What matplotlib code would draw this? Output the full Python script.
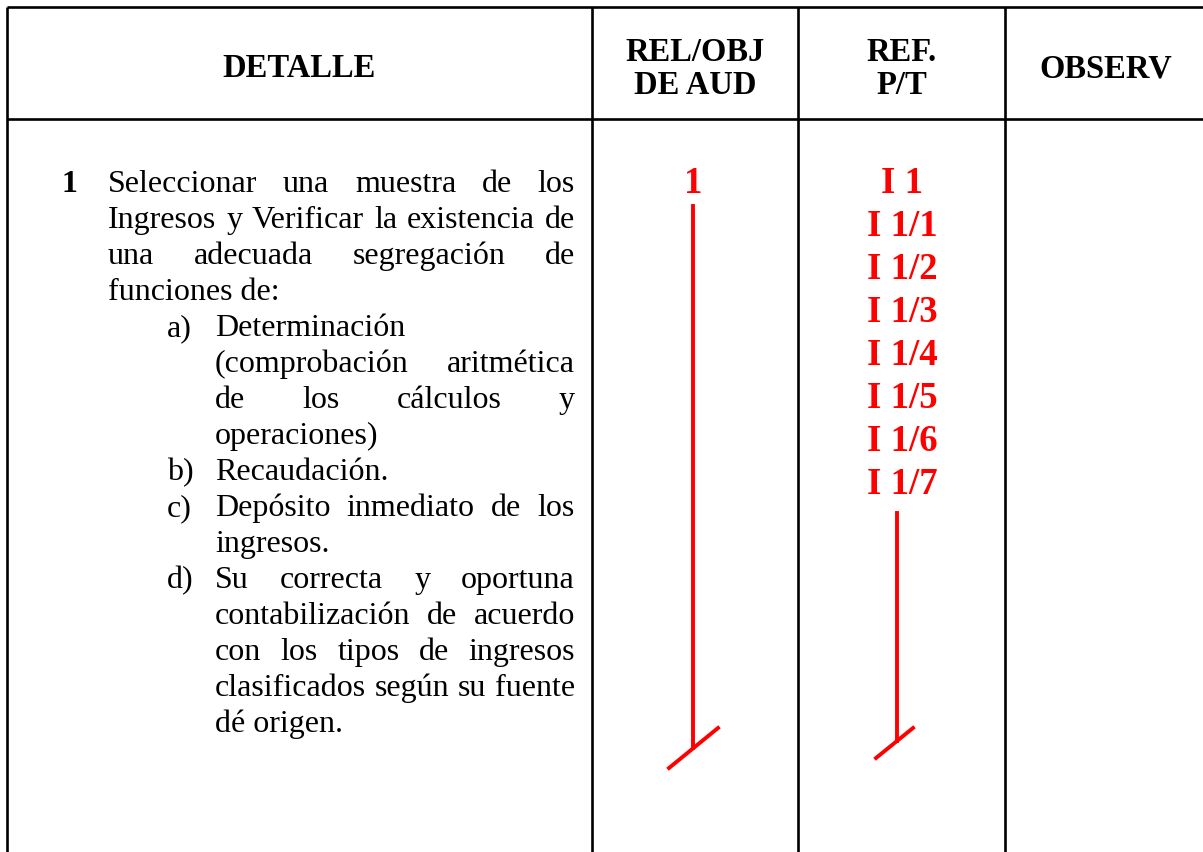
import matplotlib
matplotlib.use("Agg")
import matplotlib.pyplot as plt

# ---------------------------------------------------------------------------
# Table content
# ---------------------------------------------------------------------------
HEADERS = ["DETALLE", "REL/OBJ\nDE AUD", "REF.\nP/T", "OBSERV"]
ITEM_NUMBER = "1"

# each paragraph is a list of lines; all lines but the last are justified
INTRO = [
    "Seleccionar una muestra de los",
    "Ingresos y Verificar la existencia de",
    "una adecuada segregación de",
    "funciones de:",
]
SUB_LABELS = ["a)", "b)", "c)", "d)"]
SUB_ITEMS = [
    ["Determinación",
     "(comprobación aritmética",
     "de los cálculos y",
     "operaciones)"],
    ["Recaudación."],
    ["Depósito inmediato de los",
     "ingresos."],
    ["Su correcta y oportuna",
     "contabilización de acuerdo",
     "con los tipos de ingresos",
     "clasificados según su fuente",
     "dé origen."],
]
REL_OBJ = ["1"]
REF_PT = ["I 1", "I 1/1", "I 1/2", "I 1/3", "I 1/4", "I 1/5", "I 1/6", "I 1/7"]

# ---------------------------------------------------------------------------
# Layout (pixel coordinates, y grows downward)
# ---------------------------------------------------------------------------
W, H = 1203, 853
COL_X = [7, 592, 798, 1005, W + 5]
TOP_Y, HEAD_Y = 8, 120
SERIF = ["Liberation Serif", "DejaVu Serif"]
RED = "#ff0000"

HEAD_SIZE = 23.5
BODY_SIZE = 23
RED_SIZE = 26.5
LINE_STEP = 36
RED_STEP = 43

fig = plt.figure(figsize=(W / 100, H / 100), dpi=100)
ax = fig.add_axes([0, 0, 1, 1])
ax.set_xlim(0, W)
ax.set_ylim(H, 0)
ax.axis("off")
renderer = fig.canvas.get_renderer()

# grid lines
lw = 1.9
ax.plot([COL_X[0], W], [TOP_Y, TOP_Y], color="black", lw=lw, solid_capstyle="butt")
ax.plot([COL_X[0], W], [HEAD_Y, HEAD_Y], color="black", lw=lw, solid_capstyle="butt")
for x in COL_X[:4]:
    ax.plot([x, x], [TOP_Y, H], color="black", lw=lw, solid_capstyle="butt")

# headers
head_base = [(77,), (61, 94), (61, 94), (77,)]
for i, label in enumerate(HEADERS):
    cx = (COL_X[i] + min(COL_X[i + 1], W)) / 2
    if i == 3:
        cx = 1106
    for line, y in zip(label.split("\n"), head_base[i]):
        ax.text(cx, y, line, ha="center", va="baseline", fontsize=HEAD_SIZE,
                fontweight="bold", family=SERIF)


def text_width(s, **kw):
    t = ax.text(0, 0, s, **kw)
    w = t.get_window_extent(renderer).width
    t.remove()
    return w


def draw_paragraph(lines, x0, x1, y):
    kw = dict(fontsize=BODY_SIZE, family=SERIF, va="baseline")
    for k, line in enumerate(lines):
        words = line.split()
        last = k == len(lines) - 1
        if last or len(words) == 1:
            ax.text(x0, y, line, ha="left", **kw)
        else:
            widths = [text_width(wd, **kw) for wd in words]
            gap = (x1 - x0 - sum(widths)) / (len(words) - 1)
            x = x0
            for wd, w in zip(words, widths):
                ax.text(x, y, wd, ha="left", **kw)
                x += w + gap
        y += LINE_STEP
    return y


# detail column
y = 192
ax.text(62, y, ITEM_NUMBER, ha="left", va="baseline", fontsize=BODY_SIZE,
        fontweight="bold", family=SERIF)
y = draw_paragraph(INTRO, 108, 575, y)
for lab, para in zip(SUB_LABELS, SUB_ITEMS):
    ax.text(167, y, lab, ha="left", va="baseline", fontsize=BODY_SIZE, family=SERIF)
    y = draw_paragraph(para, 215, 575, y)

# REL/OBJ column
for k, s in enumerate(REL_OBJ):
    ax.text(693, 193 + k * RED_STEP, s, ha="center", va="baseline", color=RED,
            fontsize=RED_SIZE, fontweight="bold", family=SERIF)
red_lw = 2.8
ax.plot([693, 693], [207, 749], color=RED, lw=red_lw)
ax.plot([669, 718], [769, 729], color=RED, lw=red_lw)

# REF P/T column
for k, s in enumerate(REF_PT):
    ax.text(902, 193 + k * RED_STEP, s, ha="center", va="baseline", color=RED,
            fontsize=RED_SIZE, fontweight="bold", family=SERIF)
ax.plot([897, 897], [514, 742], color=RED, lw=red_lw)
ax.plot([876, 913], [759, 729], color=RED, lw=red_lw)

fig.savefig("out.png", dpi=100, facecolor="white")
